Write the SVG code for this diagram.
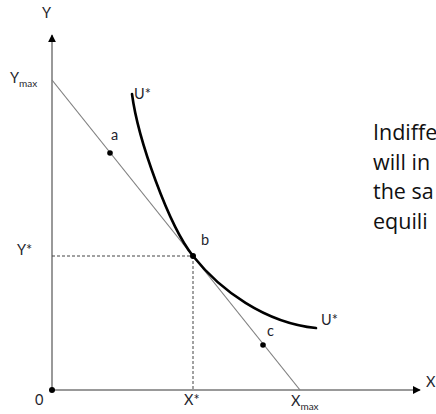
<svg xmlns="http://www.w3.org/2000/svg" width="436" height="414" viewBox="0 0 436 414">
<defs>
<style>
.lbl{font-family:Lato,"Open Sans","Liberation Sans",sans-serif;font-size:14.5px;fill:#1f1f2e}
.sub{font-size:10px}
.big{font-family:"Open Sans",Lato,"Liberation Sans",sans-serif;font-size:21.5px;fill:#111}
.axis{stroke:#999;stroke-width:2;fill:none}
.dash{stroke:#444;stroke-width:1;stroke-dasharray:3,2;fill:none}
.budget{stroke:#808080;stroke-width:1.2;fill:none}
.curve{stroke:#000;stroke-width:2.6;fill:none;stroke-linecap:round}
.dot{fill:#000}
</style>
<marker id="arr" viewBox="0 0 10 10" refX="9" refY="5" markerWidth="4" markerHeight="4" orient="auto" markerUnits="strokeWidth">
<path d="M0,0 L10,5 L0,10 z" fill="#000"/>
</marker>
</defs>
<rect width="436" height="414" fill="#fff"/>
<g id="connectors">
<line class="axis" x1="52" y1="390" x2="52" y2="35" marker-end="url(#arr)"/>
<line class="axis" x1="52" y1="390" x2="420" y2="390" marker-end="url(#arr)"/>
<line class="dash" x1="52" y1="256" x2="193" y2="256"/>
<line class="dash" x1="193" y1="256" x2="193" y2="390"/>
<line class="budget" x1="52" y1="80" x2="300" y2="390"/>
<path class="curve" d="M132,94 C138,140 169,226 193,256 C220,290 265,323 316,328"/>
</g>
<g id="origin"><circle class="dot" cx="52" cy="390" r="3"/><text class="lbl" x="35" y="405">0</text></g>
<g id="point-a"><circle class="dot" cx="110" cy="153" r="2.8"/><text class="lbl" x="111" y="140">a</text></g>
<g id="point-b"><circle class="dot" cx="193" cy="256" r="3"/><text class="lbl" x="201" y="245">b</text></g>
<g id="point-c"><circle class="dot" cx="263" cy="345" r="2.8"/><text class="lbl" x="267" y="336">c</text></g>
<g id="labels">
<text class="lbl" x="42" y="18">Y</text>
<text class="lbl" x="10" y="83">Y<tspan class="sub" dy="4">max</tspan></text>
<text class="lbl" x="17" y="255">Y*</text>
<text class="lbl" x="184" y="405">X*</text>
<text class="lbl" x="291" y="406">X<tspan class="sub" dy="4">max</tspan></text>
<text class="lbl" x="426" y="387">X</text>
<text class="lbl" x="134" y="99">U*</text>
<text class="lbl" x="321" y="325">U*</text>
</g>
<g id="note">
<text class="big" x="373" y="140">Indiffe</text>
<text class="big" x="373" y="169.5">will in</text>
<text class="big" x="373" y="199">the sa</text>
<text class="big" x="373" y="228.5">equili</text>
</g>
</svg>
